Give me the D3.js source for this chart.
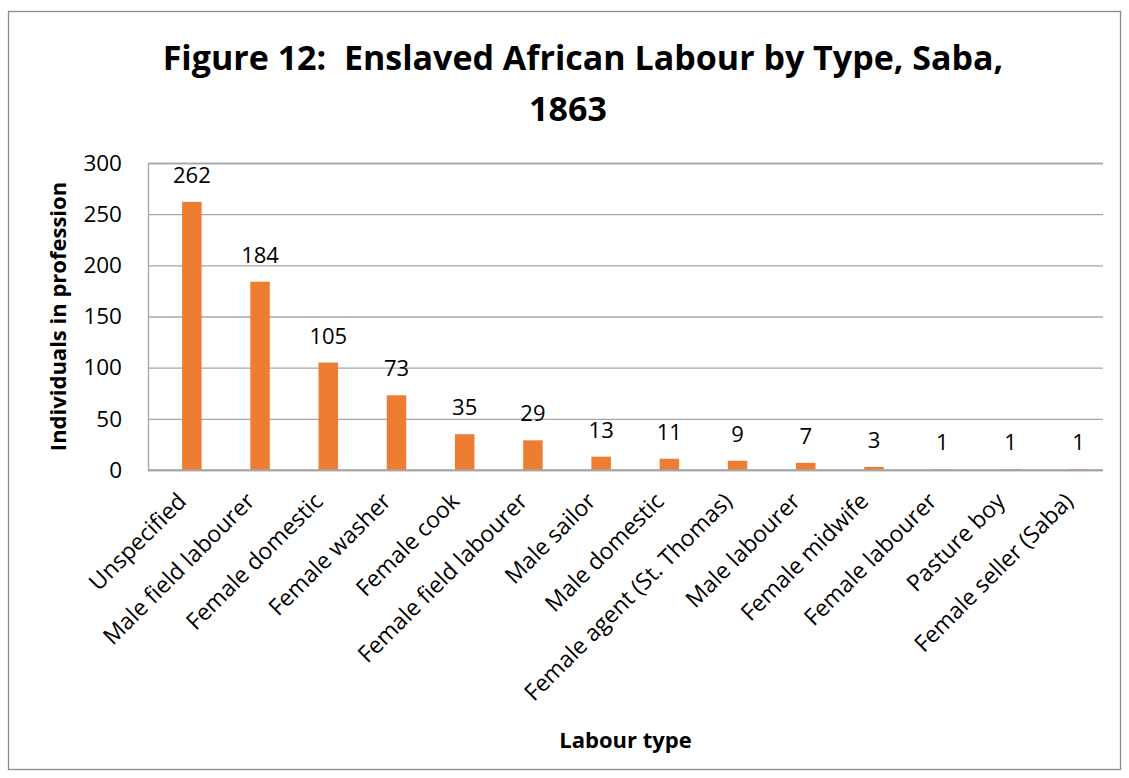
<!DOCTYPE html>
<html><head><meta charset="utf-8">
<script src="https://cdn.jsdelivr.net/npm/d3@7"></script>
<style>
body{margin:0;background:#fff}
svg text{font-family:"Open Sans",Lato,sans-serif;fill:#000}
</style>
</head><body>
<svg id="chart" width="1129" height="778"></svg>
<script>
// ---- data ----
const categories = ["Unspecified","Male field labourer","Female domestic","Female washer","Female cook","Female field labourer","Male sailor","Male domestic","Female agent (St. Thomas)","Male labourer","Female midwife","Female labourer","Pasture boy","Female seller (Saba)"];
const values = [262,184,105,73,35,29,13,11,9,7,3,1,1,1];
const yTicks = [0,50,100,150,200,250,300];
const seriesNames = ["(blank)","Individuals"]; // the original clustered chart holds an empty first series
const titleLines = ["Figure 12:  Enslaved African Labour by Type, Saba,","1863"];
const yTitle = "Individuals in profession";
const xTitle = "Labour type";

const plot = {left:148, right:1103, top:163, bottom:470};
const svg = d3.select("#chart");

// frame
svg.append("rect").attr("x",8.5).attr("y",11.5).attr("width",1112).attr("height",758)
  .attr("fill","#fff").attr("stroke","#898989").attr("stroke-width",1.3);

const x = d3.scaleBand().domain(categories).range([plot.left, plot.right]).paddingInner(0).paddingOuter(0);
const inner = d3.scaleBand().domain(seriesNames).range([0, x.bandwidth()]).paddingInner(0).paddingOuter(0.75);
const y = d3.scaleLinear().domain([0,300]).range([plot.bottom, plot.top]);

// y axis with gridlines
const yAxis = svg.append("g").attr("transform",`translate(${plot.left},0)`)
  .call(d3.axisLeft(y).tickValues(yTicks).tickSize(-(plot.right-plot.left)).tickPadding(26).tickFormat(d3.format("d")));
yAxis.selectAll(".tick line").attr("stroke","#a6a6a6").attr("stroke-width",1.3);
yAxis.select(".domain").attr("stroke","#a6a6a6").attr("stroke-width",1.3);
yAxis.selectAll(".tick text").attr("font-size",22.5).attr("fill","#000").style("font-family","'Open Sans'");

// bars
const data = categories.map((c,i)=>({c, v:values[i]}));
svg.append("g").selectAll("rect").data(data).join("rect")
  .attr("x", d=>x(d.c)+inner(seriesNames[1]))
  .attr("width", inner.bandwidth())
  .attr("y", d=>y(d.v))
  .attr("height", d=>y(0)-y(d.v))
  .attr("fill","#ED7D31");

// bottom axis line
svg.append("line").attr("x1",plot.left).attr("x2",plot.right).attr("y1",y(0)).attr("y2",y(0))
  .attr("stroke","#a6a6a6").attr("stroke-width",1.3);

// data labels
svg.append("g").selectAll("text").data(data).join("text")
  .attr("x", d=>x(d.c)+inner(seriesNames[1])+inner.bandwidth()/2)
  .attr("y", d=>y(d.v)-19)
  .attr("text-anchor","middle").attr("font-size",22)
  .text(d=>d.v);

// x tick labels
svg.append("g").selectAll("text").data(categories).join("text")
  .attr("transform", c=>`translate(${x(c)+x.bandwidth()/2-6},${plot.bottom+21}) rotate(-45)`)
  .attr("text-anchor","end").attr("dy","0.72em").attr("font-size",23)
  .text(c=>c);

// titles
const titleX = [583, 568];
const t = svg.append("text").attr("text-anchor","middle").attr("font-weight","bold").attr("font-size",34)
  .style("white-space","pre");
t.selectAll("tspan").data(titleLines).join("tspan")
  .attr("x",(d,i)=>titleX[i]).attr("y",(d,i)=>70+i*51).text(d=>d);

svg.append("text").attr("transform",`translate(66,${(plot.top+plot.bottom)/2}) rotate(-90)`)
  .attr("text-anchor","middle").attr("font-weight","bold").attr("font-size",22).text(yTitle);

svg.append("text").attr("x",(plot.left+plot.right)/2).attr("y",748)
  .attr("text-anchor","middle").attr("font-weight","bold").attr("font-size",22).text(xTitle);
</script>
</body></html>
